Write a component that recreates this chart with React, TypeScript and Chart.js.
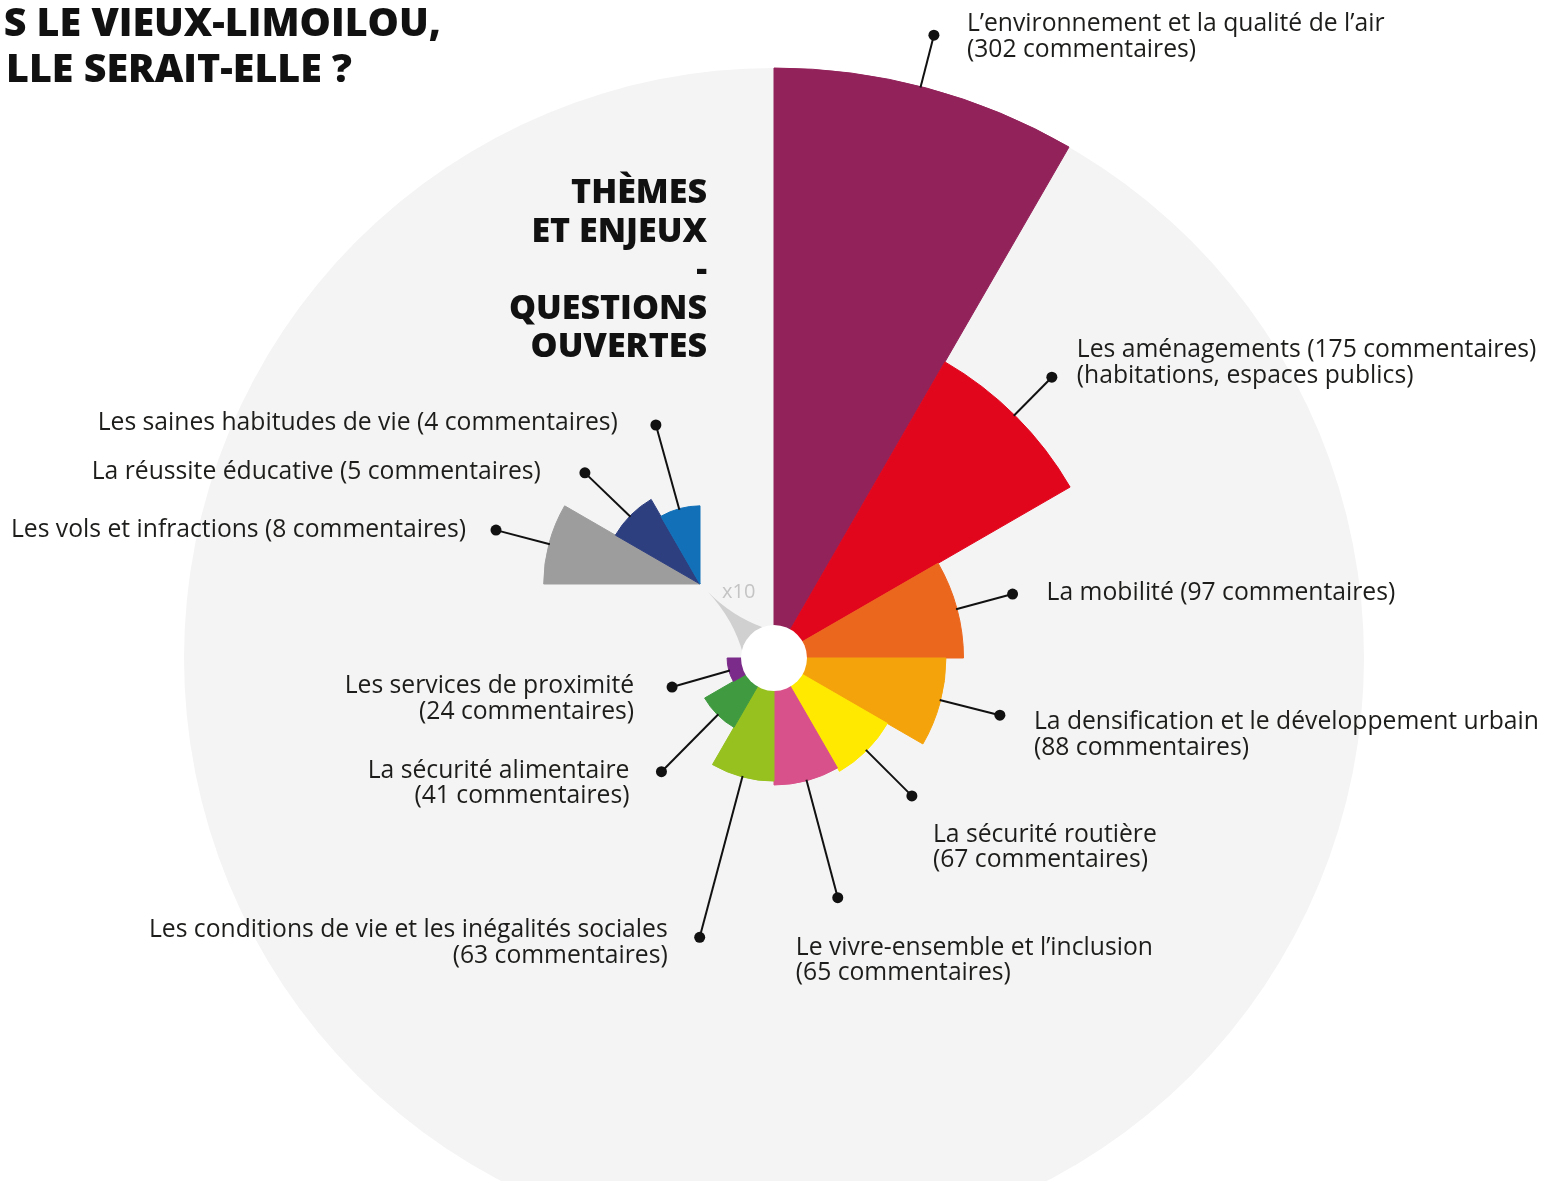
import React, { useEffect, useRef } from "react";
import { Chart, registerables } from "chart.js";

Chart.register(...registerables);

// ---------- data ----------
const categories = [
  "L’environnement et la qualité de l’air",
  "Les aménagements",
  "La mobilité",
  "La densification et le développement urbain",
  "La sécurité routière",
  "Le vivre-ensemble et l’inclusion",
  "Les conditions de vie et les inégalités sociales",
  "La sécurité alimentaire",
  "Les services de proximité",
  "Les vols et infractions",
  "La réussite éducative",
  "Les saines habitudes de vie",
];
const commentCounts = [302, 175, 97, 88, 67, 65, 63, 41, 24, 8, 5, 4];
const sliceColors = [
  "#92225a",
  "#e2061d",
  "#ec671e",
  "#f5a30b",
  "#ffe900",
  "#d9518a",
  "#96c11f",
  "#3f9a40",
  "#7b2b89",
  "#9d9d9d",
  "#2e3f80",
  "#1170b7",
];
const labelSplit = [true, false, false, true, true, true, true, true, true, false, false, false];
const labelNotes = ["", "(habitations, espaces publics)", "", "", "", "", "", "", "", "", "", ""];
const magnifiedThemes = ["Les vols et infractions", "La réussite éducative", "Les saines habitudes de vie"];
const magnification = 10;
const titleLines = ["S LE VIEUX-LIMOILOU,", "LLE SERAIT-ELLE ?"];
const themeTitleLines = ["THÈMES", "ET ENJEUX", "-", "QUESTIONS", "OUVERTES"];

// ---------- layout ----------
const W = 1549;
const H = 1249;
const MAIN = { cx: 774, cy: 658, r: 590 };
const INSET = { cx: 700, cy: 584, r: 200 };
const FONT = '"Open Sans", "Noto Sans", sans-serif';
const TEXT_FONT = `24.7px ${FONT}`;
const LINE_H = 25.5;
const INK = "#1d1d1b";

type Align = "left" | "right";
const leaderLayout: { r: number; shift: number; dx: number; dy: number; align: Align }[] = [
  { r: 643, shift: -0.6, dx: 33, dy: -4, align: "left" },
  { r: 395, shift: -0.3, dx: 25, dy: -20, align: "left" },
  { r: 247, shift: 0, dx: 34, dy: 6, align: "left" },
  { r: 233, shift: -0.8, dx: 34, dy: 14, align: "left" },
  { r: 195, shift: 0, dx: 21, dy: 46, align: "left" },
  { r: 248, shift: 0.1, dx: -42, dy: 57, align: "left" },
  { r: 289, shift: -0.1, dx: -32, dy: 0, align: "right" },
  { r: 160, shift: -0.3, dx: -32, dy: 6, align: "right" },
  { r: 106, shift: -0.9, dx: -38, dy: 6, align: "right" },
  { r: 211, shift: -0.2, dx: -30, dy: 7, align: "right" },
  { r: 160, shift: -1, dx: -44, dy: 6, align: "right" },
  { r: 165, shift: -0.5, dx: -38, dy: 5, align: "right" },
];

const labelLines = (i: number): string[] => {
  const name = categories[i];
  const count = `(${commentCounts[i]} commentaires)`;
  const lines = labelSplit[i] ? [name, count] : [`${name} ${count}`];
  if (labelNotes[i]) lines.push(labelNotes[i]);
  return lines;
};

const isMagnified = (i: number) => magnifiedThemes.includes(categories[i]);
const mainIndices = categories.map((_, i) => i).filter((i) => !isMagnified(i));
const insetIndices = categories.map((_, i) => i).filter((i) => isMagnified(i));

const paddingFor = (g: { cx: number; cy: number; r: number }) => ({
  left: g.cx - g.r,
  right: W - g.cx - g.r,
  top: g.cy - g.r,
  bottom: H - g.cy - g.r,
});

const drawLeaders = (chart: any, indices: number[]) => {
  const ctx: CanvasRenderingContext2D = chart.ctx;
  const meta = chart.getDatasetMeta(0);
  ctx.save();
  indices.forEach((i) => {
    const arc: any = meta.data[i];
    const p = arc.getProps(["x", "y", "startAngle", "endAngle", "outerRadius"], true);
    const L = leaderLayout[i];
    const a = (p.startAngle + p.endAngle) / 2 + (L.shift * Math.PI) / 180;
    const sx = p.x + Math.cos(a) * (p.outerRadius - 1);
    const sy = p.y + Math.sin(a) * (p.outerRadius - 1);
    const dx = p.x + Math.cos(a) * L.r;
    const dy = p.y + Math.sin(a) * L.r;
    ctx.strokeStyle = "#111111";
    ctx.lineWidth = 2;
    ctx.beginPath();
    ctx.moveTo(sx, sy);
    ctx.lineTo(dx, dy);
    ctx.stroke();
    ctx.fillStyle = "#111111";
    ctx.beginPath();
    ctx.arc(dx, dy, 5.5, 0, Math.PI * 2);
    ctx.fill();
    ctx.font = TEXT_FONT;
    ctx.fillStyle = INK;
    ctx.textAlign = L.align;
    ctx.textBaseline = "alphabetic";
    labelLines(i).forEach((t, k) => ctx.fillText(t, dx + L.dx, dy + L.dy + k * LINE_H));
  });
  ctx.restore();
};

const mainDecor = {
  id: "mainDecor",
  afterDatasetsDraw(chart: any) {
    const ctx: CanvasRenderingContext2D = chart.ctx;
    const s = chart.scales.r;
    const cx = s.xCenter;
    const cy = s.yCenter;
    ctx.save();
    // pointer towards the magnified inset
    ctx.fillStyle = "#d0d0d0";
    ctx.beginPath();
    ctx.moveTo(cx - 66, cy - 66);
    ctx.quadraticCurveTo(cx - 40, cy - 38, cx - 31, cy - 4);
    ctx.lineTo(cx, cy);
    ctx.lineTo(cx - 12, cy - 31);
    ctx.quadraticCurveTo(cx - 42, cy - 42, cx - 66, cy - 66);
    ctx.fill();
    // white hole
    ctx.fillStyle = "#ffffff";
    ctx.beginPath();
    ctx.arc(cx, cy, 33, 0, Math.PI * 2);
    ctx.fill();
    // x10 marker
    ctx.fillStyle = "#c4c4c4";
    ctx.font = `20px ${FONT}`;
    ctx.textAlign = "left";
    ctx.textBaseline = "alphabetic";
    ctx.fillText(`x${magnification}`, cx - 52, cy - 60);
    ctx.restore();
    drawLeaders(chart, mainIndices);
  },
  afterDraw(chart: any) {
    const ctx: CanvasRenderingContext2D = chart.ctx;
    ctx.save();
    ctx.fillStyle = "#111111";
    ctx.textBaseline = "alphabetic";
    ctx.textAlign = "right";
    ctx.font = `800 39.4px ${FONT}`;
    ctx.fillText(titleLines[0], 441, 36);
    ctx.fillText(titleLines[1], 352, 82);
    ctx.font = `800 34px ${FONT}`;
    const base = [203, 242, 280, 319, 357];
    themeTitleLines.forEach((t, k) => ctx.fillText(t, 707, base[k]));
    ctx.restore();
  },
};

const insetDecor = {
  id: "insetDecor",
  afterDatasetsDraw(chart: any) {
    drawLeaders(chart, insetIndices);
  },
};

const scaleOpts = (max: number, bg?: string) => ({
  r: {
    min: 0,
    max,
    startAngle: 0,
    backgroundColor: bg,
    grid: { display: false, circular: true },
    angleLines: { display: false },
    ticks: { display: false },
    pointLabels: { display: false },
  },
});

export default function App() {
  const mainRef = useRef<HTMLCanvasElement>(null);
  const insetRef = useRef<HTMLCanvasElement>(null);

  useEffect(() => {
    const maxValue = Math.max(...commentCounts);
    const main = new Chart(mainRef.current!, {
      type: "polarArea",
      data: {
        labels: categories,
        datasets: [
          {
            data: commentCounts,
            backgroundColor: sliceColors,
            borderColor: sliceColors,
            borderWidth: 1,
          },
        ],
      },
      options: {
        responsive: false,
        animation: false,
        events: [],
        layout: { padding: paddingFor(MAIN) },
        plugins: { legend: { display: false }, tooltip: { enabled: false } },
        scales: scaleOpts(maxValue, "#f4f4f4") as any,
      },
      plugins: [mainDecor],
    });

    const insetValues = commentCounts.map((v, i) => (isMagnified(i) ? v : 0));
    const insetMax = (maxValue / magnification) * (INSET.r / MAIN.r);
    const inset = new Chart(insetRef.current!, {
      type: "polarArea",
      data: {
        labels: categories,
        datasets: [
          {
            data: insetValues,
            backgroundColor: sliceColors,
            borderColor: sliceColors,
            borderWidth: insetValues.map((v) => (v > 0 ? 1 : 0)),
          },
        ],
      },
      options: {
        responsive: false,
        animation: false,
        events: [],
        layout: { padding: paddingFor(INSET) },
        plugins: { legend: { display: false }, tooltip: { enabled: false } },
        scales: scaleOpts(insetMax) as any,
      },
      plugins: [insetDecor],
    });

    return () => {
      main.destroy();
      inset.destroy();
    };
  }, []);

  const canvasStyle: React.CSSProperties = { position: "absolute", left: 0, top: 0, width: W, height: H };
  return (
    <div
      style={{
        position: "fixed",
        left: 0,
        top: 0,
        width: W,
        height: 1181,
        overflow: "hidden",
        background: "#ffffff",
      }}
    >
      <canvas ref={mainRef} width={W} height={H} style={canvasStyle} />
      <canvas ref={insetRef} width={W} height={H} style={canvasStyle} />
    </div>
  );
}
